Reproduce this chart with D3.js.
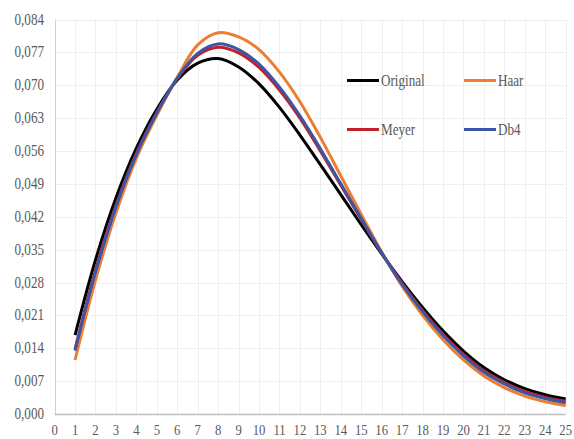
<!DOCTYPE html>
<html><head><meta charset="utf-8">
<script src="https://cdn.jsdelivr.net/npm/d3@7"></script>
<style>html,body{margin:0;padding:0;background:#fff;}svg{display:block;}</style>
</head><body>
<svg id="c" width="574" height="439"></svg>
<script>
const xs = [1,2,3,4,5,6,7,8,9,10,11,12,13,14,15,16,17,18,19,20,21,22,23,24,25];
const original = [0.0168,0.0328,0.0460,0.0566,0.0649,0.0711,0.0747,0.0757,0.0739,0.0703,0.0653,0.0594,0.0531,0.0467,0.0403,0.0341,0.0282,0.0227,0.0177,0.0134,0.0099,0.0073,0.0054,0.0041,0.0032];
const haar = [0.0115,0.0285,0.0428,0.0545,0.0636,0.0717,0.0786,0.0812,0.0803,0.0776,0.0728,0.0665,0.0589,0.0507,0.0425,0.0345,0.0272,0.0210,0.0158,0.0115,0.0081,0.0056,0.0038,0.0026,0.0018];
const meyer = [0.0138,0.0306,0.0444,0.0555,0.0642,0.0714,0.0764,0.0781,0.0769,0.0738,0.0690,0.0630,0.0560,0.0487,0.0414,0.0343,0.0278,0.0220,0.0170,0.0127,0.0092,0.0067,0.0048,0.0035,0.0027];
const db4 = [0.0135,0.0302,0.0441,0.0553,0.0641,0.0715,0.0768,0.0788,0.0776,0.0745,0.0696,0.0635,0.0565,0.0490,0.0416,0.0343,0.0276,0.0218,0.0167,0.0124,0.0089,0.0064,0.0045,0.0033,0.0024];
const seriesNames = ["Original","Haar","Meyer","Db4"];
const seriesColors = ["#000000","#ED7D31","#C0202A","#3C55A5"];
const xTicks = d3.range(0,26);
const yTicks = [0,0.007,0.014,0.021,0.028,0.035,0.042,0.049,0.056,0.063,0.070,0.077,0.084];

const svg = d3.select("#c");
const x = d3.scaleLinear().domain([0,25]).range([54.6,565.7]);
const y = d3.scaleLinear().domain([0,0.084]).range([414,19.5]);
const fmt = v => d3.format(".3f")(v).replace(".",",");
const SX = 0.82;

// grid
svg.append("g").selectAll("line").data(yTicks.slice(1)).join("line")
  .attr("x1",x(0)).attr("x2",x(25)).attr("y1",d=>Math.round(y(d))+0.5).attr("y2",d=>Math.round(y(d))+0.5)
  .attr("stroke","#efefef").attr("stroke-width",1);
svg.append("g").selectAll("line").data(xTicks.slice(1)).join("line")
  .attr("y1",y(0)).attr("y2",y(0.084)).attr("x1",d=>Math.round(x(d))+0.5).attr("x2",d=>Math.round(x(d))+0.5)
  .attr("stroke","#efefef").attr("stroke-width",1);

// axes lines
svg.append("line").attr("x1",Math.round(x(0))+0.5).attr("x2",Math.round(x(0))+0.5).attr("y1",y(0)).attr("y2",y(0.084))
  .attr("stroke","#d0d0d0");
svg.append("line").attr("x1",x(0)).attr("x2",x(25)).attr("y1",Math.round(y(0))+0.5).attr("y2",Math.round(y(0))+0.5)
  .attr("stroke","#bfbfbf").attr("stroke-width",1.5);

const font = "'Liberation Serif','Times New Roman',serif";
// y labels
svg.append("g").selectAll("text").data(yTicks).join("text")
  .attr("transform",d=>`translate(44,${y(d)+5}) scale(${SX},1)`)
  .attr("text-anchor","end").attr("font-family",font).attr("font-size",16).attr("fill","#595959")
  .text(fmt);
// x labels
svg.append("g").selectAll("text").data(xTicks).join("text")
  .attr("transform",d=>`translate(${x(d)},435) scale(${SX},1)`)
  .attr("text-anchor","middle").attr("font-family",font).attr("font-size",15.5).attr("fill","#595959")
  .text(d=>d);

// lines
const allData = [original,haar,meyer,db4];
const line = d3.line().x((d,i)=>x(xs[i])).y(d=>y(d)).curve(d3.curveCatmullRom.alpha(0.5));
svg.append("g").selectAll("path").data(allData).join("path")
  .attr("d",line).attr("fill","none")
  .attr("stroke",(d,i)=>seriesColors[i]).attr("stroke-width",3).attr("stroke-linejoin","round");

// legend
const legPos = [[347,80.5],[464,80.5],[347,129.5],[464,129.5]];
const lg = svg.append("g").selectAll("g").data(seriesNames).join("g")
  .attr("transform",(d,i)=>`translate(${legPos[i][0]},${legPos[i][1]})`);
lg.append("line").attr("x1",0).attr("x2",32).attr("y1",0).attr("y2",0)
  .attr("stroke",(d,i)=>seriesColors[i]).attr("stroke-width",3);
lg.append("text").attr("transform",`translate(34,5.5) scale(${SX},1)`)
  .attr("font-family",font).attr("font-size",16).attr("fill","#595959").text(d=>d);
</script>
</body></html>
